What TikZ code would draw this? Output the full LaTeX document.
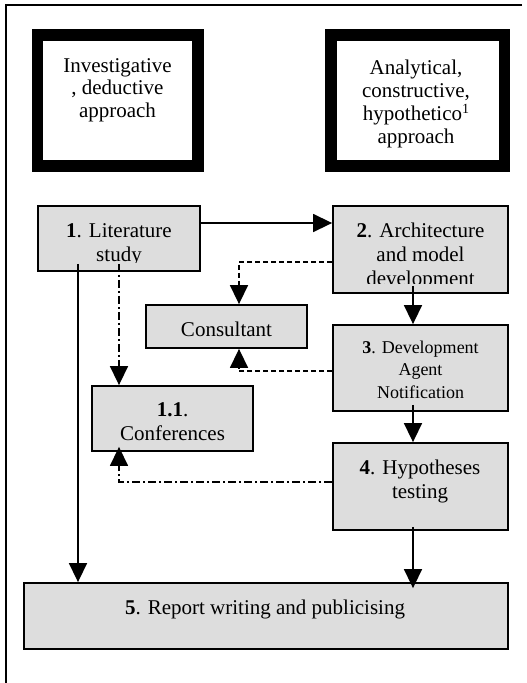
\documentclass[tikz,border=0pt]{standalone}
\usepackage{fontspec}
\setmainfont{Liberation Serif}
\usetikzlibrary{arrows.meta,calc}
\definecolor{boxgray}{RGB}{221,221,221}
\newcommand{\firstln}{\rule{0pt}{15pt}}
\newcommand{\firstsm}{\rule{0pt}{13pt}}
\begin{document}
\begin{tikzpicture}[x=1pt,y=-1pt,
  box/.style={draw, line width=1.8pt, fill=boxgray, inner sep=0pt},
  heavybox/.style={draw, line width=11.7pt, fill=white, inner sep=0pt},
  txt/.style={inner sep=0pt, align=center, anchor=north, font=\fontsize{21}{24}\selectfont},
  smalltxt/.style={txt, font=\fontsize{18}{22.5}\selectfont},
  arr/.style={line width=1.5pt, -{Triangle[length=19pt,width=18pt]}},
  dsh/.style={arr, dash pattern=on 5pt off 3pt},
  dshdot/.style={arr, dash pattern=on 8pt off 3pt on 2pt off 3pt}]
\useasboundingbox (0,0) rectangle (527,683);
% outer frame (left and top edges only)
\draw[line width=2.5pt] (522,5) -- (6.2,5) -- (6.2,683);
% approach boxes
\node[heavybox, minimum width=160.2pt, minimum height=130.8pt] (tl) at (117.6,100.4) {};
\node[heavybox, minimum width=173.7pt, minimum height=130.8pt] (tr) at (417.6,100.4) {};
\node[txt, font=\fontsize{21}{22.5}\selectfont] (tlt) at (117.5,57) {\firstln Investigative\\, deductive\\approach};
\node[txt, font=\fontsize{21}{23}\selectfont] (trt) at (416,59.5) {\firstln Analytical,\\constructive,\\hypothetico\raisebox{7pt}{\fontsize{14}{14}\selectfont 1}\\approach};
% process boxes
\node[box, minimum width=162pt, minimum height=65pt] (b1) at (119,238.5) {};
\node[box, minimum width=175pt, minimum height=87pt] (b2) at (420.5,249.5) {};
\node[box, minimum width=161pt, minimum height=43pt, text height=21pt, font=\fontsize{21}{23}\selectfont] (cons) at (226.5,326.5) {Consultant};
\node[box, minimum width=175pt, minimum height=86pt] (b3) at (420.5,368) {};
\node[box, minimum width=161pt, minimum height=65pt] (b11) at (172.5,418.5) {};
\node[box, minimum width=175pt, minimum height=87pt] (b4) at (420.5,486.5) {};
\node[box, minimum width=484pt, minimum height=66pt] (b5) at (266,616) {};
% box texts (clipped by the inner text area as in the original)
\begin{scope}
  \clip (b1.north west) rectangle ($(b1.south east)+(0,-9)$);
  \node[txt] (b1t) at (119,222) {\firstln\textbf{1}. Literature\\study};
\end{scope}
\begin{scope}
  \clip (b2.north west) rectangle ($(b2.south east)+(0,-10)$);
  \node[txt] (b2t) at (420.5,222.5) {\firstln\textbf{2}. Architecture\\and model\\development};
\end{scope}
\begin{scope}
  \clip (b11.north west) rectangle ($(b11.south east)+(0,-11.5)$);
  \node[txt] (b11t) at (172.5,401.5) {\firstln\textbf{1.1}.\\Conferences};
\end{scope}
\node[smalltxt] (b3t) at (420.5,340) {\firstsm\textbf{3}. Development\\Agent\\Notification};
\node[txt] (b4t) at (420,459.5) {\firstln\textbf{4}. Hypotheses\\testing};
\node[txt] (b5t) at (265,599.5) {\firstln\textbf{5}. Report writing and publicising};
% connectors
\draw[arr] (b1.east |- 0,223) -- (b2.west |- 0,223);
\draw[dsh] (b2.west |- 0,262) -| (cons.north -| 239,0);
\draw[dsh] (b3.west |- 0,371) -| (cons.south -| 239,0);
\draw[dshdot] ($(b1.south)+(0,-8)$) -- (b11.north -| b1.south);
\draw[arr] ($(b1.south -| 78,0)+(0,-8)$) -- (b5.north -| 78,0);
\draw[arr] ($(b2.south -| 413,0)+(0,-8)$) -- (b3.north -| 413,0);
\draw[arr] ($(b3.south -| 413,0)+(0,-7)$) -- (b4.north -| 413,0);
\draw[arr] ($(b4.south -| 413,0)+(0,-4)$) -- ($(b5.north -| 413,0)+(0,6)$);
\draw[dshdot] (b4.west |- 0,482) -| ($(b11.south -| 119,0)+(0,-5)$);
\end{tikzpicture}
\end{document}
